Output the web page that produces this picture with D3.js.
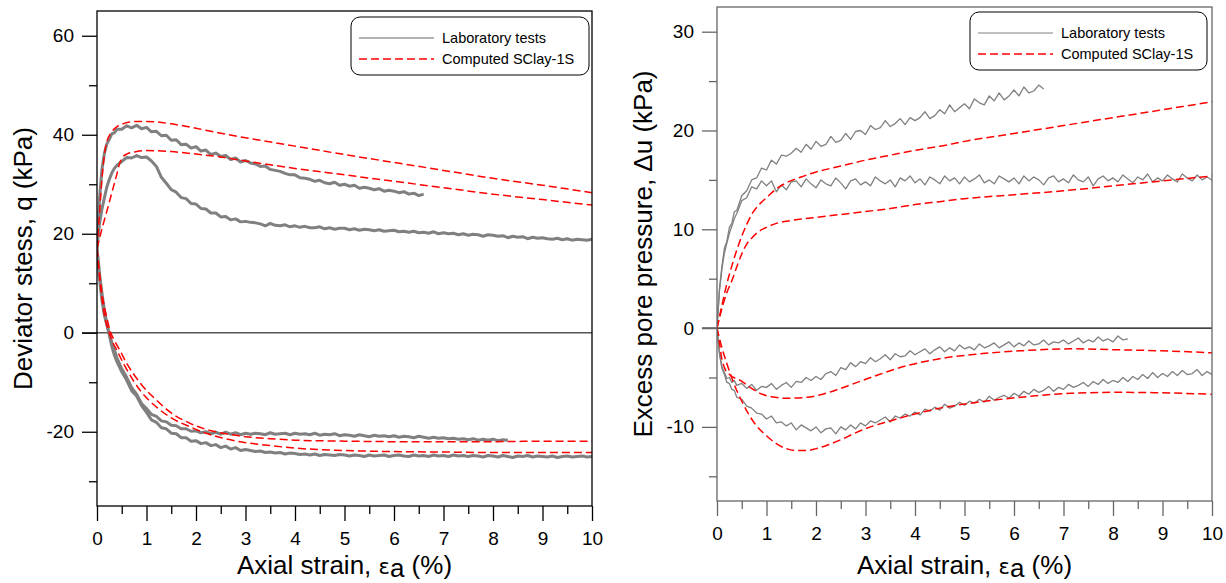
<!DOCTYPE html>
<html>
<head>
<meta charset="utf-8">
<script src="https://cdn.jsdelivr.net/npm/d3@7"></script>
<style>
  body { margin: 0; background: #fff; }
  text { font-family: "Liberation Sans", Arial, sans-serif; }
</style>
</head>
<body>
<svg width="1226" height="583"></svg>
<script>
// strain values (%) at which the lab records were read
const strainGrid = [0, 0.05, 0.1, 0.15, 0.2, 0.25, 0.3, 0.35, 0.4,
  0.5, 0.6, 0.7, 0.8, 0.9,
  1.0, 1.1, 1.2, 1.3, 1.4, 1.5, 1.6, 1.7, 1.8, 1.9,
  2.0, 2.1, 2.2, 2.3, 2.4, 2.5, 2.6, 2.7, 2.8, 2.9,
  3.0, 3.1, 3.2, 3.3, 3.4, 3.5, 3.6, 3.7, 3.8, 3.9,
  4.0, 4.1, 4.2, 4.3, 4.4, 4.5, 4.6, 4.7, 4.8, 4.9,
  5.0, 5.1, 5.2, 5.3, 5.4, 5.5, 5.6, 5.7, 5.8, 5.9,
  6.0, 6.1, 6.2, 6.3, 6.4, 6.5, 6.6, 6.7, 6.8, 6.9,
  7.0, 7.1, 7.2, 7.3, 7.4, 7.5, 7.6, 7.7, 7.8, 7.9,
  8.0, 8.1, 8.2, 8.3, 8.4, 8.5, 8.6, 8.7, 8.8, 8.9,
  9.0, 9.1, 9.2, 9.3, 9.4, 9.5, 9.6, 9.7, 9.8, 9.9,
  10.0];

// ---- deviator stress q (kPa), laboratory tests ----
const labQComp1 = [17, 27, 33, 36.3, 38.2, 39.1, 40.2, 40.4, 41.1,
  41.1, 41.8, 41.4, 41.9, 41.2,
  41.5, 40.6, 40.7, 39.8, 39.9, 38.9, 39.0, 38.0, 38.1, 37.3,
  37.6, 36.7, 36.9, 36.0, 36.3, 35.6, 35.8, 35.0, 35.3, 34.5,
  34.8, 34.3, 34.1, 33.6, 33.7, 33.0, 32.8, 32.6, 32.2, 31.9,
  31.9, 31.3, 31.2, 31.0, 30.6, 30.8, 30.3, 30.1, 30.4, 29.8,
  30.0, 29.6, 29.8, 29.2, 29.4, 29.2, 28.9, 29.1, 28.6, 28.8,
  28.6, 28.3, 28.5, 28.0, 28.2, 27.7, 28.0];
const labQComp2 = [17, 22, 25, 27.3, 29.5, 31, 32.3, 33.2, 33.8,
  34.6, 35.4, 35.3, 35.8, 35.4,
  35.5, 34.7, 33.6, 31.4, 30.2, 28.9, 28.4, 27.3, 27.1, 26.1,
  26.0, 25.1, 25.0, 24.2, 24.2, 23.4, 23.5, 22.8, 23.0, 22.4,
  22.5, 22.3, 22.2, 22.0, 21.6, 22.1, 21.7, 21.6, 21.8, 21.4,
  21.6, 21.3, 21.5, 21.2, 21.2, 21.4, 21.0, 21.2, 20.9, 21.1,
  21.1, 20.8, 21.0, 20.7, 20.9, 20.8, 20.6, 20.8, 20.5, 20.6,
  20.7, 20.4, 20.5, 20.3, 20.5, 20.2, 20.3, 20.1, 20.4, 20.0,
  20.2, 20.0, 20.1, 19.8, 20.0, 19.7, 19.9, 19.8, 19.5, 19.8,
  19.7, 19.5, 19.6, 19.2, 19.5, 19.3, 19.4, 19.0, 19.3, 19.1,
  19.2, 19.0, 18.9, 19.1, 18.8, 19.0, 18.7, 18.9, 18.8, 18.7,
  18.9];
const labQExt1 = [17, 11, 6.5, 3.5, 1.5, -0.3, -2, -3.5, -5,
  -7.3, -9.0, -11.1, -12.4, -14.3,
  -15.3, -16.5, -16.9, -17.8, -18.0, -18.7, -18.8, -19.4, -19.4, -19.9,
  -19.8, -20.2, -20.0, -20.4, -20.1, -20.5, -20.1, -20.5, -20.2, -20.6,
  -20.3, -20.5, -20.3, -20.4, -20.6, -20.2, -20.5, -20.4, -20.3, -20.6,
  -20.3, -20.5, -20.4, -20.6, -20.3, -20.7, -20.5, -20.6, -20.4, -20.8,
  -20.6, -20.7, -20.9, -20.6, -20.8, -21.0, -20.7, -20.9, -20.8, -21.0,
  -20.8, -21.1, -20.9, -21.0, -21.2, -20.9, -21.1, -21.3, -21.1, -21.3,
  -21.2, -21.4, -21.3, -21.5, -21.4, -21.6, -21.4, -21.7, -21.5, -21.7,
  -21.5, -21.8, -21.6, -21.7];
const labQExt2 = [17, 12, 8, 4.5, 1.9, -0.5, -2.8, -4.5, -5.8,
  -7.9, -9.6, -11.7, -12.8, -14.7,
  -16.1, -17.6, -18.1, -19.2, -19.4, -20.3, -20.4, -21.2, -21.2, -21.9,
  -21.8, -22.4, -22.2, -22.8, -22.6, -23.2, -22.9, -23.5, -23.2, -23.8,
  -23.6, -23.8, -24.0, -23.9, -24.2, -24.1, -24.3, -24.2, -24.5, -24.3,
  -24.4, -24.6, -24.5, -24.7, -24.5, -24.8, -24.6, -24.7, -24.8, -24.6,
  -24.7, -24.9, -24.7, -24.8, -25.0, -24.7, -24.9, -24.8, -24.7, -25.0,
  -24.8, -24.7, -24.9, -25.0, -24.7, -24.9, -24.8, -25.0, -24.7, -24.9,
  -24.8, -25.0, -24.7, -24.9, -24.8, -25.0, -24.8, -24.9, -25.1, -24.8,
  -24.9, -25.1, -24.8, -25.0, -25.2, -24.9, -25.0, -24.8, -25.1, -24.9,
  -25.0, -25.1, -24.9, -25.2, -25.0, -24.9, -25.1, -25.0, -24.9, -25.1,
  -25.0];

// ---- deviator stress q (kPa), computed SClay-1S ----
const simQComp1 = [[0, 17], [0.05, 24], [0.1, 31], [0.15, 36], [0.2, 38.6], [0.3, 40.6],
  [0.4, 41.6], [0.55, 42.3], [0.8, 42.7], [1.0, 42.7], [1.5, 42.2], [2, 41.3], [2.5, 40.3],
  [3, 39.4], [4, 37.7], [5, 36], [6, 34.4], [7, 32.8], [8, 31.2], [9, 29.8], [10, 28.3]];
const simQComp2 = [[0, 17], [0.1, 21], [0.2, 24.6], [0.3, 28.3], [0.4, 32], [0.45, 34],
  [0.5, 35.2], [0.6, 36.1], [0.8, 36.6], [1.0, 36.8], [1.5, 36.6], [2, 36.1], [2.5, 35.5],
  [3, 34.7], [4, 33.2], [5, 31.9], [6, 30.6], [7, 29.3], [8, 28], [9, 26.9], [10, 25.8]];
const simQExt1 = [[0, 17], [0.05, 12], [0.1, 8], [0.2, 3], [0.26, 0.5], [0.35, -1.5],
  [0.46, -3.5], [0.6, -6.2], [0.73, -8.2], [0.9, -10.5], [1.2, -13.6], [1.5, -16.2],
  [1.88, -18.3], [2.2, -19.5], [2.55, -20.3], [3, -21], [3.5, -21.4], [4, -21.7],
  [5, -21.9], [6, -22], [7, -22], [8, -22], [9, -21.9], [10, -21.9]];
const simQExt2 = [[0, 17], [0.05, 11.5], [0.1, 7], [0.15, 3.5], [0.23, 0.5], [0.3, -1.5],
  [0.4, -3.5], [0.55, -6.5], [0.73, -9.6], [0.9, -12], [1.2, -15], [1.5, -17.2],
  [1.88, -19], [2.2, -20.3], [2.55, -21.3], [3, -22.2], [3.5, -22.8], [4, -23.3],
  [5, -23.8], [6, -24], [7, -24.1], [8, -24.2], [9, -24.2], [10, -24.2]];

// ---- excess pore pressure du (kPa), laboratory tests ----
const labUComp1 = [0, 4, 6.3, 8.1, 8.8, 10.2, 10.6, 11.8, 11.9,
  13.4, 13.9, 15.0, 15.2, 16.2,
  16.0, 17.0, 16.6, 17.5, 17.4, 17.7, 18.2, 17.8, 18.6, 18.1,
  18.9, 18.4, 18.6, 19.4, 18.8, 19.0, 19.7, 19.1, 19.9, 20.0,
  19.6, 20.5, 20.1, 20.3, 21.0, 20.4, 20.7, 21.2, 20.6, 21.3,
  21.0, 21.3, 21.9, 21.2, 21.5, 22.1, 21.7, 22.6, 21.9, 22.3,
  22.7, 22.2, 23.2, 22.8, 22.6, 23.5, 23.0, 23.8, 23.1, 23.5,
  24.1, 23.5, 24.4, 23.8, 24.0, 24.6, 24.2];
const labUComp2 = [0, 3.8, 6.0, 7.6, 8.6, 9.6, 10.3, 11.1, 11.6,
  12.9, 13.2, 14.3, 14.1, 14.9,
  14.4, 14.9, 13.8, 14.5, 14.0, 14.8, 14.9, 14.3, 15.1, 14.6,
  14.2, 15.0, 14.6, 14.4, 15.2, 14.7, 14.1, 14.9, 15.1, 14.5,
  14.8, 14.4, 15.3, 14.9, 14.6, 15.0, 14.3, 15.2, 14.9, 15.4,
  14.7, 15.1, 14.5, 15.3, 15.0, 14.6, 15.4, 14.9, 15.2, 14.6,
  15.3, 14.8, 15.1, 15.5, 14.7, 15.0, 14.6, 15.4, 15.1, 14.8,
  15.2, 14.6, 15.4, 14.9, 15.3, 15.0, 14.5, 15.2, 15.4, 14.8,
  15.1, 14.7, 15.5, 15.0, 14.8, 15.3, 14.4, 15.1, 15.4, 14.9,
  15.2, 14.8, 15.5, 15.1, 14.7, 15.3, 15.0, 15.6, 14.8, 15.2,
  14.9, 15.5, 15.1, 14.8, 15.6, 15.2, 14.9, 15.5, 15.0, 15.3,
  15.0];
const labUExt1 = [0, -2.5, -3.9, -4.5, -5.1, -5.0, -5.5, -5.3, -5.8,
  -5.6, -6.1, -5.7, -6.3, -5.9,
  -6.0, -5.6, -6.2, -5.8, -5.5, -6.0, -5.4, -5.5, -5.0, -5.3,
  -4.9, -5.2, -4.6, -4.4, -4.8, -4.0, -4.2, -3.5, -3.9, -3.4,
  -3.6, -3.0, -3.4, -3.1, -2.7, -3.2, -2.6, -2.9, -2.8, -2.3,
  -2.7, -2.4, -2.1, -2.6, -2.2, -1.9, -2.4, -2.0, -2.3, -1.7,
  -2.1, -1.9, -2.2, -1.6, -2.0, -1.8, -1.5, -2.0, -1.7, -1.4,
  -1.9, -1.5, -1.8, -1.3, -1.7, -1.6, -1.2, -1.7, -1.4, -1.5,
  -1.2, -1.6, -1.3, -1.0, -1.5, -1.2, -1.4, -0.9, -1.3, -1.1,
  -1.4, -0.8, -1.2, -1.1];
const labUExt2 = [0, -2.6, -4.1, -4.7, -5.5, -5.6, -6.2, -6.3, -7.0,
  -7.2, -7.9, -8.1, -8.6, -8.7,
  -9.2, -8.9, -9.6, -9.5, -9.9, -9.6, -10.3, -9.8, -10.1, -10.4,
  -10.0, -10.6, -10.2, -10.1, -10.7, -10.0, -10.3, -9.8, -10.2, -9.6,
  -9.9, -9.4, -9.6, -9.3, -9.0, -9.5, -8.9, -9.1, -8.7, -8.9,
  -8.5, -8.8, -8.2, -8.4, -8.0, -8.3, -7.7, -8.1, -7.9, -7.5,
  -7.8, -7.4, -7.6, -7.2, -7.5, -6.9, -7.3, -7.0, -6.8, -7.1,
  -6.6, -6.9, -6.4, -6.7, -6.2, -6.5, -6.3, -5.9, -6.4, -6.0,
  -6.2, -5.7, -6.0, -5.8, -5.5, -5.9, -5.4, -5.7, -5.2, -5.6,
  -5.3, -5.5, -5.0, -5.4, -4.9, -5.2, -4.7, -5.1, -4.5, -5.0,
  -4.6, -4.9, -4.4, -4.8, -4.3, -4.7, -4.6, -4.2, -4.8, -4.4,
  -4.7];

// ---- excess pore pressure du (kPa), computed SClay-1S ----
const simUComp1 = [[0, 0], [0.1, 2.3], [0.2, 4.5], [0.3, 6.3], [0.4, 7.9], [0.5, 9.3],
  [0.6, 10.5], [0.7, 11.5], [0.85, 12.5], [1.0, 13.2], [1.2, 14.1], [1.4, 14.7],
  [1.7, 15.3], [2, 15.8], [2.5, 16.4], [3, 17.0], [3.5, 17.5], [4, 18.0], [4.5, 18.4],
  [5, 18.9], [6, 19.7], [7, 20.5], [8, 21.3], [9, 22.1], [10, 22.9]];
const simUComp2 = [[0, 0], [0.1, 2], [0.2, 3.6], [0.3, 4.8], [0.4, 6.2], [0.5, 7.5],
  [0.6, 8.5], [0.7, 9.1], [0.85, 9.8], [1.0, 10.2], [1.2, 10.6], [1.5, 10.9], [2, 11.2],
  [2.5, 11.5], [3, 11.8], [3.5, 12.1], [4, 12.5], [4.5, 12.8], [5, 13.1], [6, 13.5],
  [7, 13.9], [8, 14.4], [9, 14.9], [10, 15.4]];
const simUExt1 = [[0, 0], [0.05, -1.5], [0.1, -3.2], [0.15, -4.0], [0.25, -4.7],
  [0.47, -5.3], [0.7, -6.1], [0.87, -6.6], [1.1, -6.95], [1.41, -7.1], [1.82, -7.0],
  [2.2, -6.6], [2.5, -6.1], [3.16, -4.9], [3.84, -3.8], [4.5, -3.1], [5.12, -2.7],
  [6.13, -2.3], [7.14, -2.1], [8.15, -2.2], [9, -2.3], [10, -2.5]];
const simUExt2 = [[0, 0], [0.1, -2.0], [0.2, -3.6], [0.34, -5.6], [0.5, -7.4], [0.74, -9.5],
  [1.0, -10.9], [1.2, -11.7], [1.4, -12.2], [1.6, -12.4], [1.8, -12.4], [2.0, -12.2],
  [2.2, -11.9], [2.5, -11.3], [2.8, -10.6], [3.16, -9.9], [3.5, -9.4], [3.84, -8.9],
  [4.5, -8.1], [5.12, -7.6], [6.13, -7.0], [7.14, -6.6], [8.15, -6.5], [9, -6.55], [10, -6.7]];

const xTicks = [0, 1, 2, 3, 4, 5, 6, 7, 8, 9, 10];
const xMinorTicks = [0.5, 1.5, 2.5, 3.5, 4.5, 5.5, 6.5, 7.5, 8.5, 9.5];
const legendLabels = ['Laboratory tests', 'Computed SClay-1S'];

let svg = d3.select('svg');

function withStrain(values) {
  return values.map((v, i) => [strainGrid[i], v]);
}

function drawPanel(p) {
  let x = d3.scaleLinear().domain([0, 10]).range([p.left, p.right]);
  let y = d3.scaleLinear().domain(p.yDomain).range([p.bottom, p.top]);
  let g = svg.append('g');

  g.append('clipPath').attr('id', p.id + '-clip')
    .append('rect')
    .attr('x', p.left).attr('y', p.top)
    .attr('width', p.right - p.left).attr('height', p.bottom - p.top);

  // zero line
  g.append('line')
    .attr('x1', p.left - 15).attr('x2', p.right)
    .attr('y1', y(0)).attr('y2', y(0))
    .attr('stroke', p.zeroColor).attr('stroke-width', 1.3);

  let line = d3.line().x(d => x(d[0])).y(d => y(d[1]));
  let smooth = d3.line().x(d => x(d[0])).y(d => y(d[1])).curve(d3.curveMonotoneX);

  let plot = g.append('g').attr('clip-path', `url(#${p.id}-clip)`);

  plot.selectAll('path.lab')
    .data(p.lab)
    .enter()
    .append('path')
    .attr('class', 'lab')
    .attr('d', d => line(withStrain(d)))
    .attr('fill', 'none')
    .attr('stroke', '#808080')
    .attr('stroke-width', p.labWidth)
    .attr('stroke-linejoin', 'round');

  plot.selectAll('path.sim')
    .data(p.sim)
    .enter()
    .append('path')
    .attr('class', 'sim')
    .attr('d', d => smooth(d))
    .attr('fill', 'none')
    .attr('stroke', '#ff0000')
    .attr('stroke-width', 1.5)
    .attr('stroke-dasharray', '8,4');

  // frame
  g.append('rect')
    .attr('x', p.left).attr('y', p.top)
    .attr('width', p.right - p.left).attr('height', p.bottom - p.top)
    .attr('fill', 'none')
    .attr('stroke', p.frameColor).attr('stroke-width', 1.3);

  let styleAxis = sel => {
    sel.select('.domain').remove();
    sel.selectAll('.tick line').attr('stroke', p.frameColor).attr('stroke-width', 1.3);
    sel.selectAll('.tick text')
      .attr('fill', '#000')
      .style('font-size', '19px')
      .style('font-family', '"Liberation Sans", Arial, sans-serif');
  };

  g.append('g').attr('transform', `translate(${p.left},0)`)
    .call(d3.axisLeft(y).tickValues(p.yTicks).tickSize(15).tickPadding(8).tickFormat(d => String(d)))
    .call(styleAxis);
  g.append('g').attr('transform', `translate(${p.left},0)`)
    .call(d3.axisLeft(y).tickValues(p.yMinor).tickSize(8).tickFormat(''))
    .call(styleAxis);
  g.append('g').attr('transform', `translate(0,${p.bottom})`)
    .call(d3.axisBottom(x).tickValues(xTicks).tickSize(15).tickPadding(11).tickFormat(d => String(d)))
    .call(styleAxis);
  g.append('g').attr('transform', `translate(0,${p.bottom})`)
    .call(d3.axisBottom(x).tickValues(xMinorTicks).tickSize(8).tickFormat(''))
    .call(styleAxis);

  // axis titles
  let xt = g.append('text')
    .attr('x', (p.left + p.right) / 2)
    .attr('y', 574)
    .attr('text-anchor', 'middle')
    .style('font-size', '26px');
  xt.append('tspan').text('Axial strain, ');
  xt.append('tspan').text('ε').style('font-family', '"DejaVu Sans", sans-serif').style('font-size', '21px');
  xt.append('tspan').text('a').attr('dy', 3);
  xt.append('tspan').text(' (%)').attr('dy', -3);

  g.append('text')
    .attr('transform', `translate(${p.yTitleX},${(p.top + p.bottom) / 2}) rotate(-90)`)
    .attr('text-anchor', 'middle')
    .style('font-size', '26px')
    .text(p.yTitle);

  // legend
  let lg = g.append('g');
  lg.append('rect')
    .attr('x', p.legend.x).attr('y', p.legend.y)
    .attr('width', p.legend.w).attr('height', p.legend.h)
    .attr('rx', 9).attr('ry', 9)
    .attr('fill', '#fff').attr('stroke', '#000').attr('stroke-width', 1);
  legendLabels.forEach((label, i) => {
    let ly = p.legend.y + 21 + i * 21;
    lg.append('line')
      .attr('x1', p.legend.x + 8).attr('x2', p.legend.x + 83)
      .attr('y1', ly).attr('y2', ly)
      .attr('stroke', i === 0 ? p.legendGray : '#ff0000')
      .attr('stroke-width', i === 0 ? p.legendGrayWidth : 1.5)
      .attr('stroke-dasharray', i === 0 ? null : '8,4');
    lg.append('text')
      .attr('x', p.legend.x + 91).attr('y', ly)
      .attr('dy', '0.35em')
      .style('font-size', '14.5px')
      .text(label);
  });
}

drawPanel({
  id: 'q',
  left: 97, right: 592, top: 11, bottom: 506,
  yDomain: [-35, 65],
  yTicks: [-20, 0, 20, 40, 60],
  yMinor: [-30, -10, 10, 30, 50],
  lab: [labQComp1, labQComp2, labQExt1, labQExt2],
  sim: [simQComp1, simQComp2, simQExt1, simQExt2],
  labWidth: 3,
  frameColor: '#000',
  zeroColor: '#555',
  yTitle: 'Deviator stess, q (kPa)',
  yTitleX: 32,
  legend: { x: 351, y: 17, w: 238, h: 58 },
  legendGray: '#b3b3b3',
  legendGrayWidth: 1.8
});

drawPanel({
  id: 'u',
  left: 717, right: 1212, top: 7, bottom: 501,
  yDomain: [-17.5, 32.5],
  yTicks: [-10, 0, 10, 20, 30],
  yMinor: [-15, -5, 5, 15, 25],
  lab: [labUComp1, labUComp2, labUExt1, labUExt2],
  sim: [simUComp1, simUComp2, simUExt1, simUExt2],
  labWidth: 1.3,
  frameColor: '#666',
  zeroColor: '#000',
  yTitle: 'Excess pore pressure, Δu (kPa)',
  yTitleX: 652,
  legend: { x: 970, y: 12, w: 237, h: 58 },
  legendGray: '#808080',
  legendGrayWidth: 1
});
</script>
</body>
</html>
